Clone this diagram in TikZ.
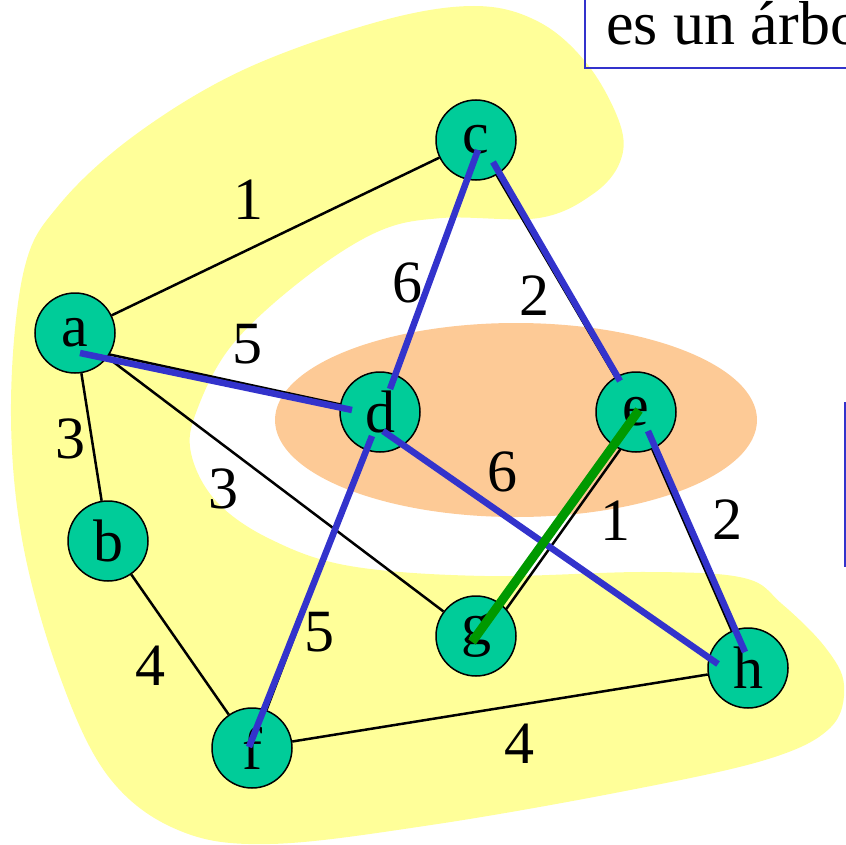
\documentclass[tikz,border=0pt]{standalone}
\usepackage{fontspec}
\setmainfont{Liberation Serif}
\usetikzlibrary{backgrounds,calc}
\definecolor{blobYellow}{RGB}{255,255,153}
\definecolor{cutPeach}{RGB}{253,202,150}
\definecolor{vertTeal}{RGB}{0,204,153}
\definecolor{treeBlue}{RGB}{51,51,204}
\definecolor{newGreen}{RGB}{0,153,0}
\tikzset{
  vert/.style={circle, draw, line width=1.5pt, fill=vertTeal, minimum size=80pt, inner sep=0pt, font=\fontsize{60}{60}\selectfont},
  link/.style={line width=2.5pt},
  tree/.style={line width=6.5pt, color=treeBlue},
  pick/.style={line width=9pt, color=newGreen},
  weight/.style={inner sep=0pt, font=\fontsize{60}{60}\selectfont},
  infobox/.style={draw=treeBlue, line width=1.5pt}
}

\begin{document}
\begin{tikzpicture}[x=1pt, y=-1pt]
  \useasboundingbox (0,0) rectangle (845,845);

  \node[vert] (a) at (75,333) {a};
  \node[vert] (b) at (108,541) {b};
  \node[vert] (c) at (476,140) {c};
  \node[vert] (d) at (380,412) {d};
  \node[vert] (e) at (636,412) {e};
  \node[vert] (f) at (252,748) {f};
  \node[vert] (g) at (476,636) {g};
  \node[vert] (h) at (748,668) {h};

  \begin{scope}[on background layer]
    % cut regions
    \fill[blobYellow] plot[smooth cycle, tension=0.6] coordinates {
      (474,6) (539,22) (588,65) (620,124) (620,162) (593,194) (539,218)
      (442,218) (377,232) (302,280) (232,345) (197,410) (191,453) (216,501)
      (270,539) (350,566) (485,576) (647,572) (744,578) (782,604) (825,647)
      (844,685) (830,728) (765,760) (620,792) (431,825) (270,844) (178,830)
      (108,776) (59,674) (22,539) (11,404) (24,270) (59,205) (135,135)
      (243,70) (377,22)};
    \fill[cutPeach] (516,420) ellipse [x radius=241pt, y radius=97pt];

    \draw[link] (a) -- (c);
    \draw[link] (a) -- (b);
    \draw[link] ([shift={(0,14)}]a.center) -- ([shift={(-28,-5)}]d.center);
    \draw[link] (a) -- (g);
    \draw[link] (b) -- (f);
    \draw[link] ([shift={(2,10)}]c.center) -- ([shift={(10,-23)}]d.center);
    \draw[link] (c) -- (e);
    \draw[link] (d) -- (f);
    \draw[link] ([shift={(3,19)}]d.center) -- ([shift={(-30,-4)}]h.center);
    \draw[link] ([xshift=11pt]g.center) -- ([xshift=11pt]e.center);
    \draw[link] (e) -- (h);
    \draw[link] (f) -- (h);
  \end{scope}

  % tree edges
  \draw[tree] ([shift={(2,10)}]c.center) -- ([shift={(10,-23)}]d.center);
  \draw[tree] ([shift={(17,22)}]c.center) -- ([shift={(-16,-31)}]e.center);
  \draw[tree] ([shift={(5,20)}]a.center) -- ([shift={(-28,-2)}]d.center);
  \draw[tree] ([shift={(3,19)}]d.center) -- ([shift={(-30,-4)}]h.center);
  \draw[tree] ([shift={(-8,24)}]d.center) -- ([shift={(-3,-1)}]f.center);
  \draw[tree] ([shift={(12,19)}]e.center) -- ([shift={(-3,-16)}]h.center);
  \draw[pick] ([shift={(-4,6)}]g.center) -- ([shift={(3,-2)}]e.center);

  \node[weight] (wac) at (248,200) {1};
  \node[weight] (wcd) at (407,283) {6};
  \node[weight] (wce) at (534,296) {2};
  \node[weight] (wad) at (247,344) {5};
  \node[weight] (wab) at (70,439) {3};
  \node[weight] (wag) at (223,489) {3};
  \node[weight] (wdh) at (502,472) {6};
  \node[weight] (weg) at (615,521) {1};
  \node[weight] (weh) at (727,520) {2};
  \node[weight] (wdf) at (319,632) {5};
  \node[weight] (wbf) at (150,666) {4};
  \node[weight] (wfh) at (519,744) {4};

  \node[anchor=base west, inner sep=0pt, font=\fontsize{62}{62}\selectfont] (title) at (606,45) {es un árbol};
  \draw[infobox] (585,-10) rectangle (900,68);
  \node[infobox, anchor=north west, minimum width=80pt, minimum height=163pt] (side) at (844,402) {};
\end{tikzpicture}
\end{document}
